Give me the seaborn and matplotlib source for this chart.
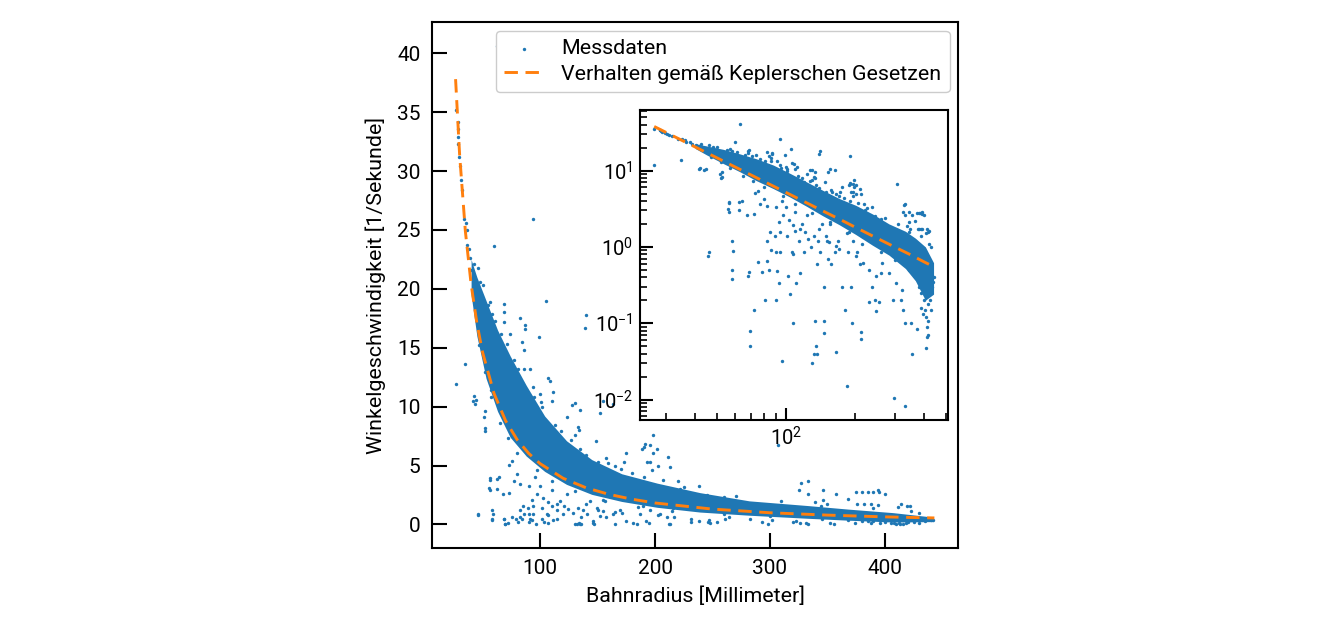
import matplotlib
matplotlib.use("Agg")
import matplotlib.pyplot as plt
import matplotlib.ticker as mticker
import seaborn as sns

# Kepler fit
fit_r = [26.5, 30, 35, 40, 45, 50, 60, 70, 80, 90, 100, 120, 140, 160, 180, 200, 250, 300, 350, 400, 443]
fit_w = [37.8, 31.4, 24.9, 20.4, 17.1, 14.6, 11.1, 8.8, 7.2, 6.04, 5.16, 3.92, 3.11, 2.55, 2.14, 1.82, 1.30, 0.99, 0.79, 0.64, 0.55]

band_r = [40, 45, 53, 63, 74, 88, 104, 123, 145, 171, 202, 239, 282, 333, 368, 407, 442]
band_lo = [19.5, 16.0, 12.4, 9.6, 7.4, 5.8, 4.5, 3.4, 2.55, 1.95, 1.45, 1.05, 0.78, 0.52, 0.36, 0.2, 0.24]
band_hi = [22.5, 21.0, 19.0, 16.5, 14.3, 11.8, 9.2, 7.1, 5.5, 4.3, 3.5, 2.7, 2.0, 1.6, 1.3, 1.0, 0.62]

# individual measurements outside the core
r_pts = [26.5, 26.5, 28.2, 28.2, 28.5, 28.8, 29.7, 30.3, 30.9, 31.7, 33.7, 35.2, 36.0, 36.6, 38.0, 38.9, 40.3, 41.5, 42.4,
         34.6, 59.6, 62.8, 94, 105, 139.5, 82.7, 68.3, 56.8,
         68.3, 74, 87, 84.2, 85.6, 91.4, 85.6, 99.1, 106.6, 108.6, 93.7, 100, 101.4, 110, 123, 127.4, 133, 130, 134.3,
         148.4, 152.4, 163.4, 159, 172.9, 175, 190.8, 198, 196, 189, 198, 196, 197, 203, 213, 220, 222, 238, 207,
         260, 245, 246, 120, 117,
         86.5, 155, 191, 193, 202, 211, 130, 134, 127, 111.6, 102, 100.6, 157.7, 165, 170, 140, 191.3, 140.2, 69, 307,
         333, 333, 339, 344, 394, 400, 414, 419, 327, 325, 346, 346, 357, 368, 411, 422, 423,
         375, 380, 385, 390, 395, 376, 382, 388, 394,
         45.8, 41.5, 43.8, 51.6, 51.8, 56.2, 62.5, 56, 62.5, 58.2, 58.2, 68.3, 69.7, 67.7, 72.6, 73.2, 75.5, 76.9,
         79.8, 82.7, 82.7, 84.2, 85.6, 90, 90, 92.8, 94.2, 95.7, 97.2, 100, 101.4, 102.9, 105.8, 107.2, 110, 110,
         114.4, 117.3, 120.1, 123, 128.8, 130.3, 134.6, 136, 137.5, 140.5, 143.3, 146.2, 150.5, 152, 156.3, 157.7,
         163.5, 169.3, 175, 181, 186.7, 192.5, 195.4, 204, 210, 216,
         42.2, 44.6, 52.4, 52.4, 57.3, 56.5, 56.5, 64.4, 46.2, 58.8, 57.9, 68.6, 72.4, 69.5, 80.8, 75.5, 82.7, 78.9,
         90.7, 91.4, 96.3, 93, 103.8, 110.9, 115, 102, 107, 133.7, 146, 146.5, 132.3, 136, 165.5, 184, 195, 212.6,
         212, 231, 254, 248, 298, 333, 356, 374, 326, 331, 410, 413, 418, 238, 246, 261, 293, 320, 352,
         84.9, 89.3, 93.9, 107.3, 114.7, 120.6, 124.6, 133.2, 140.1, 149.8, 154.9, 165.6, 171.2, 189.2, 202.2, 216.2,
         231.1, 247, 264, 282.3, 301.7, 322.5,
         368, 380, 390, 400, 405, 408, 412, 416, 420, 425, 430, 435, 440, 442, 388, 396,
         # ragged edges of the core
         46, 48, 50, 55, 58, 61, 66, 71, 77, 81, 95, 113, 118, 135, 150, 180, 190, 225, 270, 310, 350, 390, 430,
         47, 52, 57, 65, 72, 80, 97, 110, 130, 155, 185, 215, 260, 300, 345, 385, 420]
w_pts = [35.2, 11.9, 34.2, 33.6, 32.9, 32.3, 31.2, 30.4, 29.2, 28.4, 25.9, 25.6, 25.0, 23.7, 23.4, 22.6, 21.6, 21.0, 22.1,
         13.6, 23.6, 40.6, 25.9, 19.0, 16.7, 17.5, 18.0, 18.9,
         17.2, 16.2, 16.95, 15.5, 14.8, 13.2, 13.2, 15.9, 12.45, 12.2, 11.7, 11.1, 10.0, 10.5, 9.1, 10.1, 8.3, 7.6, 9.7,
         7.1, 9.5, 10.2, 5.2, 5.3, 6.1, 6.6, 7.55, 6.7, 6.4, 6.1, 5.3, 4.6, 5.0, 4.9, 3.7, 3.0, 3.3, 3.8,
         2.3, 2.5, 2.2, 7.1, 6.3,
         16.6, 10.5, 6.85, 5.3, 6.4, 5.75, 10.3, 8.0, 7.2, 11.2, 8.7, 10.4, 5.6, 5.0, 4.7, 5.9, 15.6, 17.8, 18.7, 6.7,
         3.7, 2.6, 1.9, 1.56, 2.9, 2.6, 1.72, 1.56, 3.5, 2.9, 2.9, 2.1, 2.6, 2.2, 1.5, 1.6, 1.1,
         2.74, 2.76, 2.74, 2.75, 2.73, 1.7, 1.72, 1.7, 1.69,
         0.76, 10.5, 10.2, 9.1, 7.9, 3.8, 3.85, 3.1, 3.0, 1.2, 0.5, 0.42, 0.05, 2.6, 2.7, 5.05, 5.4, 3.7,
         4.3, 3.4, 1.2, 0.5, 0.9, 0.2, 3.3, 2.1, 0.85, 4.0, 2.6, 3.3, 1.4, 2.25, 0.85, 0.1, 1.6, 2.9,
         1.2, 2.0, 0.85, 2.6, 1.0, 0.03, 0.05, 0.6, 1.2, 0.85, 2.0, 0.3, 1.2, 0.7, 2.0, 0.6,
         0.85, 1.2, 0.3, 0.15, 0.85, 0.3, 1.2, 0.85, 0.6, 1.4,
         10.9, 10.6, 9.6, 8.2, 11.4, 3.9, 2.9, 4.0, 0.86, 0.88, 0.38, 0.47, 0.151, 0.078, 0.20, 0.63, 0.65, 0.47,
         0.86, 0.48, 0.032, 0.34, 0.24, 0.34, 0.46, 0.42, 0.80, 0.108, 0.107, 0.074, 0.040, 0.039, 0.042, 0.015, 0.10, 0.076,
         0.063, 0.19, 0.19, 0.145, 0.0105, 0.0083, 0.039, 0.084, 0.149, 0.10, 0.048, 0.066, 0.108, 0.3, 0.2, 0.45, 0.2, 0.2, 0.1,
         1.56, 1.4, 1.56, 1.91, 1.72, 1.56, 1.27, 1.4, 1.72, 1.4, 1.15, 1.03, 0.93, 1.56, 0.76, 0.62,
         0.5, 0.41, 0.62, 0.455, 0.34, 0.27,
         0.41, 0.3, 0.25, 0.2, 0.15, 0.12, 0.09, 0.07, 0.28, 0.2, 0.15, 0.3, 0.35, 0.4, 0.16, 0.13,
         21.8, 20.6, 20.3, 18.6, 17.9, 17.3, 16.2, 15.3, 14.0, 13.2, 10.8, 8.4, 7.9, 6.4, 5.3, 4.4, 4.0, 3.2, 2.4, 2.0, 1.7, 1.4, 1.0,
         15.2, 12.9, 10.8, 8.6, 7.3, 6.1, 4.6, 3.7, 2.8, 2.1, 1.5, 1.1, 0.85, 0.68, 0.5, 0.33, 0.18]

BLUE = "#1f77b4"
ORANGE = "#ff7f0e"

sns.set_style("white")
plt.rcParams["font.family"] = ["Roboto", "DejaVu Sans"]
plt.rcParams["mathtext.fontset"] = "custom"
plt.rcParams["mathtext.rm"] = "Roboto"
plt.rcParams["mathtext.it"] = "Roboto"
for key in ("text.color", "axes.labelcolor", "xtick.color", "ytick.color", "axes.edgecolor"):
    plt.rcParams[key] = "black"

fig = plt.figure(figsize=(13.2, 6.36), dpi=100)
ax = fig.add_axes([0.327, 0.138, 0.399, 0.827])
ins = fig.add_axes([0.485, 0.340, 0.233, 0.487])


def draw(a, with_labels):
    a.fill_between(band_r, band_lo, band_hi, color=BLUE, lw=0, zorder=1)
    sns.scatterplot(x=r_pts, y=w_pts, ax=a, color=BLUE, s=6, linewidth=0, zorder=2,
                    label="Messdaten" if with_labels else None)
    sns.lineplot(x=fit_r, y=fit_w, ax=a, color=ORANGE, lw=2.1, zorder=3, sort=False, estimator=None,
                 label="Verhalten gemäß Keplerschen Gesetzen" if with_labels else None)
    a.lines[-1].set_dashes((4.6, 2.6))
    if a.get_legend() is not None:
        a.get_legend().remove()


draw(ax, True)
ins.set_xscale("log")
ins.set_yscale("log")
draw(ins, False)

for a in (ax, ins):
    for s in a.spines.values():
        s.set_linewidth(1.5)
        s.set_color("black")

ax.tick_params(direction="in", length=11, width=1.5, labelsize=15, pad=8,
               bottom=True, left=True, top=False, right=False)
ax.set_xticks([100, 200, 300, 400])
ax.set_yticks([0, 5, 10, 15, 20, 25, 30, 35, 40])
ax.set_xlabel("Bahnradius [Millimeter]", fontsize=15.4, labelpad=6)
ax.set_ylabel("Winkelgeschwindigkeit [1/Sekunde]", fontsize=15.4, labelpad=8)

ins.tick_params(which="major", direction="in", length=9, width=1.5, labelsize=14.5, pad=5,
                bottom=True, left=True, top=False, right=False)
ins.tick_params(which="minor", direction="in", length=5, width=1.2,
                bottom=True, left=True, top=False, right=False)
ins.xaxis.set_minor_formatter(mticker.NullFormatter())
ins.yaxis.set_minor_formatter(mticker.NullFormatter())
ins.set_facecolor("white")

ax.legend(loc="upper right", fontsize=15.4, frameon=True, fancybox=True, edgecolor="#cccccc",
          framealpha=1, markerscale=1.0, handlelength=1.85, labelspacing=0.3, borderaxespad=0.4)

fig.savefig("out.png", dpi=100)
